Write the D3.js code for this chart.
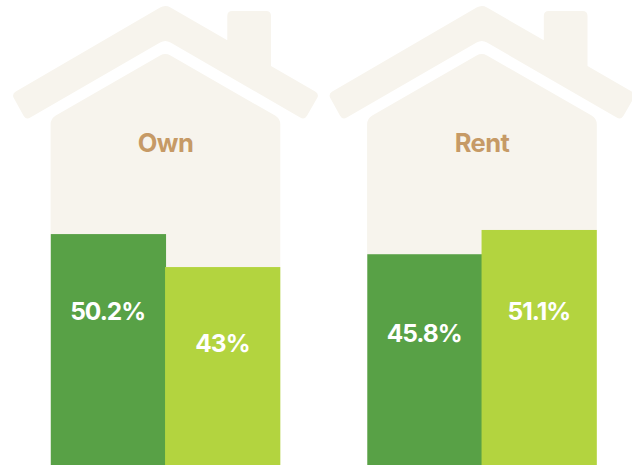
<!DOCTYPE html>
<html><head><meta charset="utf-8">
<script src="https://cdn.jsdelivr.net/npm/d3@7"></script>
<style>html,body{margin:0;padding:0;background:#fff}svg{display:block}text{font-family:Inter,sans-serif}</style>
</head><body><svg id="c" width="632" height="465"></svg>
<script>
const tenures = ["Own", "Rent"];
const groups = ["A", "B"];
const valuesA = [50.2, 45.8];
const valuesB = [43, 51.1];
const labelsA = ["50.2%", "45.8%"];
const labelsB = ["43%", "51.1%"];
const colors = ["#58a146", "#b3d43f"];
const labelDropA = [86, 88];
const labelDropB = [85, 90];

const svg = d3.select("#c");
const y = d3.scaleLinear().domain([0, 100]).range([464, 6]);

function rounded(pts, rs) {
  const n = pts.length, p = d3.path();
  pts.forEach((c, i) => {
    const a = pts[(i + n - 1) % n], b = pts[(i + 1) % n], r = rs[i];
    const da = Math.hypot(a[0]-c[0], a[1]-c[1]), db = Math.hypot(b[0]-c[0], b[1]-c[1]);
    const s = [c[0] + (a[0]-c[0]) * r / da, c[1] + (a[1]-c[1]) * r / da];
    const e = [c[0] + (b[0]-c[0]) * r / db, c[1] + (b[1]-c[1]) * r / db];
    if (i === 0) p.moveTo(s[0], s[1]); else p.lineTo(s[0], s[1]);
    if (r > 0) p.quadraticCurveTo(c[0], c[1], e[0], e[1]);
  });
  p.closePath();
  return p.toString();
}

const roof = [[165.3,4.6],[227.3,40.3],[227.3,11],[271,11],[271,66],[319.5,94],[304.5,120],[165.3,39.5],[26,120],[11.5,94]];
const roofR = [6,0,5,5,0,5,5,6,5,5];
const wall = [[165.3,52.5],[280.3,118.6],[280.3,465],[50.6,465],[50.6,118.6]];
const wallR = [6,6,0,0,6];

tenures.forEach((t, i) => {
  const g = svg.append("g").attr("transform", `translate(${i * 316.5},0)`);
  g.append("path").attr("d", rounded(roof, roofR)).attr("fill", "#f7f4ed");
  g.append("path").attr("d", rounded(wall, wallR)).attr("fill", "#f7f4ed");
  g.append("text").attr("x", 165.5).attr("y", 152).attr("text-anchor", "middle")
    .attr("font-size", 25.5).attr("font-weight", 700).attr("letter-spacing", -0.6)
    .attr("fill", "#c69a66").text(t);
  const x = d3.scaleBand().domain(groups).range([50.8, 280.3]);
  const vals = [valuesA[i], valuesB[i]];
  const labs = [labelsA[i], labelsB[i]];
  const drops = [labelDropA[i], labelDropB[i]];
  groups.forEach((k, j) => {
    g.append("rect").attr("x", x(k) - (j === 1 ? 0.5 : 0)).attr("y", y(vals[j]))
      .attr("width", x.bandwidth() + 0.5)
      .attr("height", y(0) - y(vals[j]) + 2).attr("fill", colors[j]);
  });
  groups.forEach((k, j) => {
    g.append("text").attr("x", x(k) + x.bandwidth() / 2 - 0.5)
      .attr("y", y(vals[j]) + drops[j]).attr("text-anchor", "middle")
      .attr("font-size", 24.5).attr("font-weight", 700).attr("letter-spacing", -1)
      .attr("fill", "#fff").text(labs[j]);
  });
});
</script></body></html>
